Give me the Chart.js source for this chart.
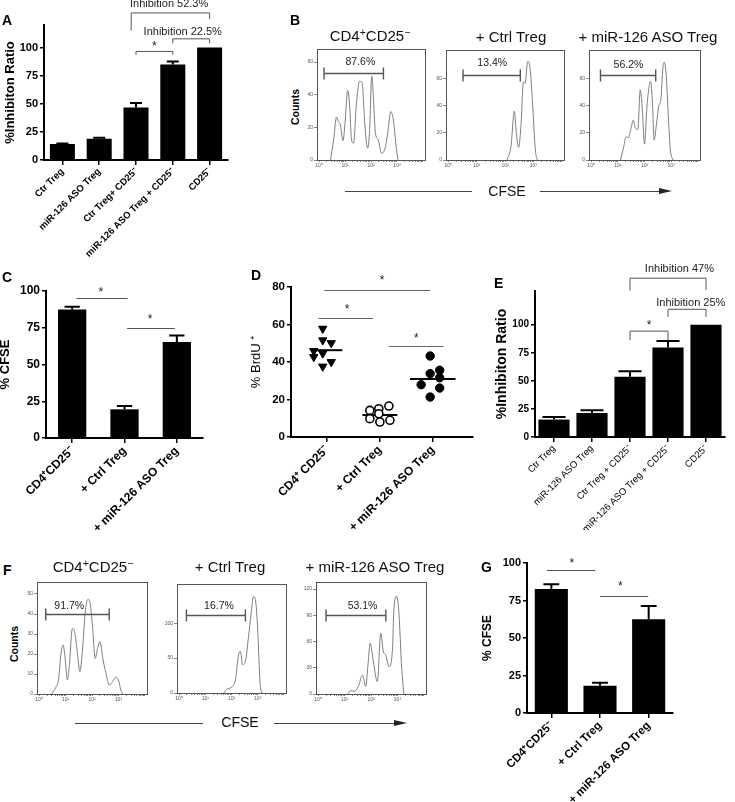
<!DOCTYPE html>
<html lang="en">
<head>
<meta charset="UTF-8">
<title>miR-126 ASO Treg suppression assays</title>
<script src="https://cdn.jsdelivr.net/npm/chart.js"></script>
<style>
  body { margin: 0; background: #fff; font-family: 'Liberation Sans', Arial, sans-serif; }
  #fig { position: relative; width: 735px; height: 802px; overflow: hidden; }
  canvas { position: absolute; }
  .t { position: absolute; white-space: nowrap; line-height: 1; color: #111; transform: translate(-50%, -50%); }
  .lt { position: absolute; font-weight: bold; font-size: 14px; line-height: 1; color: #000; }
  .ttl { font-size: 15px; }
  .cnt { font-size: 10.5px; font-weight: bold; color: #000; transform: translate(-50%, -50%) rotate(-90deg); }
  .cf { font-size: 14px; }
  sup { font-size: 0.7em; vertical-align: 0.45em; line-height: 0; }
  .ln { position: absolute; height: 1px; background: #444; }
  .arr { position: absolute; width: 0; height: 0; border-left: 13px solid #222; border-top: 3px solid transparent; border-bottom: 3px solid transparent; }
</style>
</head>
<body>
<div id="fig">
  <canvas id="cA" width="240" height="260" style="left:0;top:0"></canvas>
  <canvas id="cB1" width="130" height="129" style="left:301px;top:45px"></canvas>
  <canvas id="cB2" width="140" height="128" style="left:430px;top:46px"></canvas>
  <canvas id="cB3" width="133" height="128" style="left:573px;top:46px"></canvas>
  <canvas id="cC" width="245" height="270" style="left:0;top:260px"></canvas>
  <canvas id="cD" width="245" height="270" style="left:245px;top:260px"></canvas>
  <canvas id="cE" width="245" height="270" style="left:490px;top:260px"></canvas>
  <canvas id="cF1" width="132" height="130" style="left:21px;top:578px"></canvas>
  <canvas id="cF2" width="131" height="127" style="left:161px;top:580px"></canvas>
  <canvas id="cF3" width="132" height="130" style="left:300px;top:578px"></canvas>
  <canvas id="cG" width="257" height="272" style="left:478px;top:530px"></canvas>

  <div class="lt" style="left:2px;top:13px">A</div>
  <div class="lt" style="left:290px;top:13px">B</div>
  <div class="lt" style="left:2px;top:270px">C</div>
  <div class="lt" style="left:251px;top:268px">D</div>
  <div class="lt" style="left:494px;top:276px">E</div>
  <div class="lt" style="left:3px;top:563px">F</div>
  <div class="lt" style="left:481px;top:560px">G</div>

  <div class="t ttl" style="left:370px;top:35px">CD4<sup>+</sup>CD25<sup>−</sup></div>
  <div class="t ttl" style="left:511px;top:36px">+ Ctrl Treg</div>
  <div class="t ttl" style="left:648px;top:36px">+ miR-126 ASO Treg</div>
  <div class="t cnt" style="left:295px;top:107px">Counts</div>
  <div class="t cf" style="left:507px;top:191px">CFSE</div>
  <div class="ln" style="left:345px;top:191px;width:127px"></div>
  <div class="ln" style="left:540px;top:191px;width:122px"></div>
  <div class="arr" style="left:659px;top:188px"></div>

  <div class="t ttl" style="left:93px;top:566px">CD4<sup>+</sup>CD25<sup>−</sup></div>
  <div class="t ttl" style="left:230px;top:566px">+ Ctrl Treg</div>
  <div class="t ttl" style="left:375px;top:566px">+ miR-126 ASO Treg</div>
  <div class="t cnt" style="left:14px;top:644px">Counts</div>
  <div class="t cf" style="left:240px;top:722px">CFSE</div>
  <div class="ln" style="left:75px;top:723px;width:128px"></div>
  <div class="ln" style="left:274px;top:723px;width:121px"></div>
  <div class="arr" style="left:394px;top:720px"></div>
</div>

<script>
// ---- data ----
// A and E: % inhibition ratio (mean, SEM)
const inhLabelsA = ['Ctr Treg', 'miR-126 ASO Treg', 'Ctr Treg+ CD25⁻', 'miR-126 ASO Treg + CD25⁻', 'CD25⁻'];
const inhA = [14.2, 18.9, 46.6, 85.0, 100];
const inhErrA = [0.5, 0.9, 4.1, 2.6, 0];
const inhLabelsE = ['Ctr Treg', 'miR-126 ASO Treg', 'Ctr Treg + CD25⁻', 'miR-126 ASO Treg + CD25⁻', 'CD25⁻'];
const inhE = [15.5, 21.4, 53.6, 79.8, 100];
const inhErrE = [2.4, 2.4, 5.0, 5.6, 0];

// C and G: % CFSE
const groupLabels = ['CD4⁺CD25⁻', '+ Ctrl Treg', '+ miR-126 ASO Treg'];
const cfseC = [87.5, 19.5, 65.3];
const cfseErrC = [1.8, 2.3, 4.5];
const cfseG = [82.6, 18.1, 62.5];
const cfseErrG = [3.3, 2.0, 8.9];

// D: % BrdU+ per mouse (value, horizontal scatter within group)
const groupLabelsD = ['CD4⁺ CD25⁻', '+ Ctrl Treg', '+ miR-126 ASO Treg'];
const brduNone = [57.8, 51.6, 50.1, 45.9, 44.6, 42.7, 40.0, 37.6];
const brduNoneX = [-0.08, -0.08, 0.08, -0.25, -0.08, -0.25, 0.08, -0.08];
const brduCtrl = [14.2, 15.1, 16.5, 9.8, 12.4, 8.0, 8.9];
const brduCtrlX = [-0.19, -0.02, 0.17, -0.19, -0.02, 0.0, 0.19];
const brduAso = [43.2, 33.8, 35.6, 31.6, 27.9, 26.1, 21.3];
const brduAsoX = [-0.05, -0.05, 0.13, 0.13, -0.22, 0.13, -0.05];
const brduMean = [46.3, 11.7, 30.9];

// B and F: CFSE histograms (log10 CFSE, counts)
const histTickLabels = ['10⁰', '10¹', '10²', '10³'];
const b1Log = [0.44, 0.56, 0.67, 0.74, 0.82, 0.92, 1.0, 1.10, 1.18, 1.25, 1.33, 1.43, 1.56, 1.66, 1.76, 1.87, 1.94, 2.03, 2.10, 2.17, 2.28, 2.40, 2.56, 2.66, 2.76, 2.86, 2.97, 3.04];
const b1Cnt = [0, 12.3, 26.3, 23.6, 21.5, 11.9, 22.6, 42.7, 32.8, 12.3, 10.3, 32.8, 48.2, 47.2, 22.6, 7.2, 16.4, 51.3, 35.9, 16.4, 12.3, 4.1, 8.2, 18.5, 29.7, 24.6, 8.2, 0];
const b2Log = [2.07, 2.21, 2.33, 2.40, 2.48, 2.56, 2.65, 2.71, 2.80, 2.88, 2.98, 3.07, 3.14];
const b2Cnt = [0, 9.8, 35.9, 19.5, 9.3, 24.4, 57.3, 56.6, 72.7, 68.3, 39, 7.3, 0];
const b3Log = [1.10, 1.22, 1.31, 1.40, 1.48, 1.58, 1.65, 1.75, 1.84, 1.92, 2.00, 2.09, 2.16, 2.23, 2.30, 2.36, 2.45, 2.54, 2.61, 2.69, 2.74, 2.81, 2.90, 2.97, 3.07];
const b3Cnt = [0, 9.8, 17, 16.6, 22, 29.3, 23.9, 22.4, 51.7, 36.6, 11.7, 39, 52.4, 58, 41.5, 14.6, 26.8, 40.2, 43.9, 68.3, 72, 63.4, 29.3, 7.3, 0];
const f1Log = [0.48, 0.63, 0.73, 0.83, 0.91, 0.98, 1.07, 1.14, 1.26, 1.34, 1.45, 1.54, 1.64, 1.74, 1.84, 1.92, 2.02, 2.12, 2.21, 2.30, 2.42, 2.55, 2.65, 2.78, 2.90, 3.0, 3.09, 3.16];
const f1Cnt = [0, 3.3, 7, 20.3, 24.5, 18.3, 7, 13.7, 32.8, 31.2, 20.3, 11.2, 22, 40.3, 47.3, 46, 33.7, 17.8, 22.8, 26.2, 17, 9, 4.5, 6.2, 8.3, 7, 2, 0];
const f2Log = [1.70, 1.83, 2.02, 2.15, 2.27, 2.34, 2.42, 2.53, 2.65, 2.75, 2.84, 2.93, 3.0, 3.09, 3.16];
const f2Cnt = [0, 5.7, 8.6, 19, 54.8, 59.5, 40.5, 45.2, 81, 114, 138, 128.6, 90.5, 14.3, 0];
const f3Log = [1.12, 1.24, 1.36, 1.52, 1.68, 1.80, 1.89, 1.97, 2.09, 2.24, 2.37, 2.47, 2.56, 2.68, 2.81, 2.87, 2.97, 3.06, 3.15, 3.24];
const f3Cnt = [0, 3.7, 3, 8.6, 21.7, 8.6, 34.9, 58, 36.7, 14.2, 69.4, 48, 44.2, 31.1, 49.9, 98.6, 111.7, 91, 34.9, 0];

// proliferation gates: [from log, to log, count level] and their %
const gatesB = [[0.19, 2.48, 53.1], [0.52, 2.54, 62.7], [0.35, 2.42, 62.7]];
const gatePctB = ['87.6%', '13.4%', '56.2%'];
const gatesF = [[0.25, 2.65, 39.8], [0.28, 2.53, 112], [0.30, 2.56, 90]];
const gatePctF = ['91.7%', '16.7%', '53.1%'];

// ---- helpers ----
const FONT = "'Liberation Sans', Arial, sans-serif";
const fixW = w => s => { s.width = w; };
const fixH = h => s => { s.height = h; };
const keepTicks = top => s => { s.ticks = s.ticks.filter(t => t.value <= top + 1e-9); };
const base = pad => ({
  animation: false, responsive: false, events: [],
  layout: { padding: { top: pad[0], right: pad[1], left: 0, bottom: 0 } },
  plugins: { legend: { display: false }, tooltip: { enabled: false } }
});

function errorBars(errs, capFrac) {
  return {
    id: 'errorBars',
    afterDatasetsDraw(chart) {
      const { ctx, scales: { y } } = chart;
      const meta = chart.getDatasetMeta(0);
      const vals = chart.data.datasets[0].data;
      ctx.save();
      ctx.strokeStyle = '#000';
      ctx.lineWidth = 2;
      errs.forEach((e, i) => {
        if (!e) return;
        const bar = meta.data[i];
        const top = y.getPixelForValue(vals[i] + e);
        const half = bar.width * capFrac;
        ctx.beginPath();
        ctx.moveTo(bar.x, bar.y);
        ctx.lineTo(bar.x, top);
        ctx.moveTo(bar.x - half, top);
        ctx.lineTo(bar.x + half, top);
        ctx.stroke();
      });
      ctx.restore();
    }
  };
}

// significance lines, brackets and their labels, placed in data units
function marks(items) {
  return {
    id: 'marks',
    afterDraw(chart) {
      const { ctx, scales: { x, y } } = chart;
      const px = v => x.getPixelForValue(v), py = v => y.getPixelForValue(v);
      ctx.save();
      ctx.lineWidth = 1;
      ctx.textAlign = 'center';
      ctx.textBaseline = 'middle';
      for (const m of items) {
        ctx.strokeStyle = m.color || '#555';
        if (m.bracket) {
          const [x0, x1, yv, e0, e1] = m.bracket;
          ctx.beginPath();
          ctx.moveTo(px(x0), py(e0));
          ctx.lineTo(px(x0), py(yv));
          ctx.lineTo(px(x1), py(yv));
          ctx.lineTo(px(x1), py(e1));
          ctx.stroke();
        }
        if (m.line) {
          const [x0, x1, yv] = m.line;
          ctx.beginPath();
          ctx.moveTo(px(x0), Math.round(py(yv)) + 0.5);
          ctx.lineTo(px(x1), Math.round(py(yv)) + 0.5);
          ctx.stroke();
        }
        if (m.text) {
          ctx.fillStyle = '#222';
          ctx.font = m.font;
          ctx.fillText(m.text, px(m.at[0]), py(m.at[1]));
        }
      }
      ctx.restore();
    }
  };
}

function barChart(id, labels, values, errs, o) {
  return new Chart(document.getElementById(id), {
    type: 'bar',
    data: {
      labels,
      datasets: [{ data: values, backgroundColor: '#000', borderWidth: 0, barPercentage: o.barPct, categoryPercentage: 1 }]
    },
    options: Object.assign(base(o.pad), {
      scales: {
        x: {
          grid: { drawOnChartArea: false, offset: false, tickLength: 5, color: '#000', lineWidth: 1.5 },
          border: { color: '#000', width: 2 },
          ticks: { font: { family: FONT, size: o.xFont, weight: o.xWeight }, color: '#000', minRotation: 45, maxRotation: 45, autoSkip: false, padding: 1 },
          afterFit: fixH(o.xH)
        },
        y: {
          min: 0, max: o.yMax,
          ticks: { stepSize: o.step, font: { family: FONT, size: o.yFont, weight: 'bold' }, color: '#000', padding: 2 },
          grid: { drawOnChartArea: false, tickLength: 4, color: '#000', lineWidth: 1.5 },
          border: { color: '#000', width: 2 },
          title: { display: true, text: o.title, color: '#000', font: { family: FONT, size: o.titleFont, weight: 'bold' }, padding: { top: o.titlePad, bottom: 0 } },
          afterFit: fixW(o.yW),
          afterBuildTicks: keepTicks(o.yTop)
        }
      }
    }),
    plugins: [errorBars(errs, o.cap), marks(o.marks)]
  });
}

// log-axis ticks 1..9 x 10^0..10^3, then 10^4
const logTicks = [];
for (let e = 0; e < 4; e++) for (let k = 1; k < 10; k++) logTicks.push(k * Math.pow(10, e));
logTicks.push(1e4);

const frame = {
  id: 'frame',
  beforeDatasetsDraw(chart) {
    const { ctx, chartArea: a } = chart;
    ctx.save();
    ctx.strokeStyle = '#555';
    ctx.lineWidth = 1;
    ctx.strokeRect(Math.round(a.left) + 0.5, Math.round(a.top) + 0.5, Math.round(a.width), Math.round(a.height));
    ctx.restore();
  }
};

function gate(g, pct, at) {
  return {
    id: 'gate',
    afterDatasetsDraw(chart) {
      const { ctx, scales: { x, y } } = chart;
      const x0 = x.getPixelForValue(Math.pow(10, g[0]));
      const x1 = x.getPixelForValue(Math.pow(10, g[1]));
      const yy = Math.round(y.getPixelForValue(g[2])) + 0.5;
      ctx.save();
      ctx.strokeStyle = '#555';
      ctx.lineWidth = 1.4;
      ctx.beginPath();
      ctx.moveTo(x0, yy); ctx.lineTo(x1, yy);
      ctx.moveTo(x0, yy - 6); ctx.lineTo(x0, yy + 6);
      ctx.moveTo(x1, yy - 6); ctx.lineTo(x1, yy + 6);
      ctx.stroke();
      ctx.fillStyle = '#222';
      ctx.font = '10.5px ' + FONT;
      ctx.textAlign = 'center';
      ctx.textBaseline = 'middle';
      ctx.fillText(pct, x.getPixelForValue(Math.pow(10, at[0])), y.getPixelForValue(at[1]));
      ctx.restore();
    }
  };
}

function histChart(id, logs, counts, g, pct, o) {
  const pts = logs.map((d, i) => ({ x: Math.pow(10, d), y: counts[i] }));
  const small = { family: FONT, size: 5 };
  return new Chart(document.getElementById(id), {
    type: 'scatter',
    data: { datasets: [{ data: pts, showLine: true, borderColor: '#7e7e7e', borderWidth: 1, pointRadius: 0, cubicInterpolationMode: 'monotone' }] },
    options: Object.assign(base([4, 6]), {
      scales: {
        x: {
          type: 'logarithmic', min: Math.pow(10, -0.08), max: Math.pow(10, 4.08),
          afterBuildTicks: s => { s.ticks = logTicks.map(v => ({ value: v })); },
          ticks: {
            font: small, color: '#555', maxRotation: 0, autoSkip: false, padding: 1,
            callback: v => { const e = Math.round(Math.log10(v)); return Math.abs(Math.log10(v) - e) < 1e-6 && e < 4 ? histTickLabels[e] : ''; }
          },
          grid: { drawOnChartArea: false, tickLength: 2, color: '#666', lineWidth: 0.8 },
          border: { color: '#555', width: 1 },
          afterFit: fixH(14)
        },
        y: {
          min: 0, max: o.max,
          ticks: { stepSize: o.step, font: small, color: '#555', padding: 1 },
          grid: { drawOnChartArea: false, tickLength: 3, color: '#666', lineWidth: 0.8 },
          border: { color: '#555', width: 1 },
          afterFit: fixW(16),
          afterBuildTicks: keepTicks(o.top)
        }
      }
    }),
    plugins: [frame, gate(g, pct, o.labelAt)]
  });
}

// ---- panel A ----
barChart('cA', inhLabelsA, inhA, inhErrA, {
  pad: [25, 12], yW: 44, xH: 100, yMax: 120, yTop: 100, step: 25, barPct: 0.68, cap: 0.24,
  xFont: 9.5, xWeight: 'bold', yFont: 11, title: '%Inhibiton Ratio', titleFont: 13, titlePad: 3,
  marks: [
    { bracket: [2, 3, 96.5, 93.5, 93.5] }, { text: '*', at: [2.5, 100.3], font: '12px ' + FONT },
    { bracket: [3, 4, 107.7, 103.8, 103.8] }, { text: 'Inhibition 22.5%', at: [3.27, 113.6], font: '11px ' + FONT },
    { bracket: [1.87, 4, 130.7, 115, 125.4] }, { text: 'Inhibition 52.3%', at: [2.9, 138.6], font: '11px ' + FONT }
  ]
});

// ---- panel B ----
histChart('cB1', b1Log, b1Cnt, gatesB[0], gatePctB[0], { max: 68, step: 20, top: 60, labelAt: [1.59, 59.9] });
histChart('cB2', b2Log, b2Cnt, gatesB[1], gatePctB[1], { max: 81, step: 20, top: 80, labelAt: [1.55, 71.2] });
histChart('cB3', b3Log, b3Cnt, gatesB[2], gatePctB[2], { max: 81, step: 20, top: 80, labelAt: [1.40, 70] });

// ---- panel C ----
barChart('cC', groupLabels, cfseC, cfseErrC, {
  pad: [31, 42], yW: 46, xH: 92, yMax: 100, yTop: 100, step: 25, barPct: 0.54, cap: 0.27,
  xFont: 12, xWeight: 'bold', yFont: 12, title: '% CFSE', titleFont: 13, titlePad: -2,
  marks: [
    { line: [0.08, 1.06, 95.2] }, { text: '*', at: [0.55, 98.8], font: '12px ' + FONT },
    { line: [1.05, 1.96, 74.8] }, { text: '*', at: [1.49, 80.5], font: '12px ' + FONT }
  ]
});

// ---- panel D ----
const dPoints = (vals, offs, g) => vals.map((v, i) => ({ x: g + offs[i], y: v }));
const meanHalf = [0.29, 0.33, 0.43];
new Chart(document.getElementById('cD'), {
  type: 'scatter',
  data: {
    datasets: [
      { data: dPoints(brduNone, brduNoneX, 1), pointStyle: 'triangle', pointRotation: 180, pointRadius: 4.8, pointBackgroundColor: '#000', pointBorderColor: '#000', pointBorderWidth: 1 },
      { data: dPoints(brduCtrl, brduCtrlX, 2), pointStyle: 'circle', pointRadius: 4, pointBackgroundColor: '#fff', pointBorderColor: '#000', pointBorderWidth: 1.6 },
      { data: dPoints(brduAso, brduAsoX, 3), pointStyle: 'circle', pointRadius: 4.2, pointBackgroundColor: '#000', pointBorderColor: '#000', pointBorderWidth: 1 }
    ].concat(brduMean.map((m, i) => ({
      data: [{ x: i + 1 - meanHalf[i], y: m }, { x: i + 1 + meanHalf[i], y: m }],
      showLine: true, borderColor: '#000', borderWidth: 2, pointRadius: 0
    })))
  },
  options: Object.assign(base([27, 17]), {
    scales: {
      x: {
        type: 'linear', min: 0.32, max: 3.76,
        afterBuildTicks: s => { s.ticks = groupLabelsD.map((_, i) => ({ value: i + 1 })); },
        ticks: { callback: v => groupLabelsD[v - 1], font: { family: FONT, size: 12, weight: 'bold' }, color: '#000', minRotation: 45, maxRotation: 45, autoSkip: false, padding: 1 },
        grid: { drawOnChartArea: false, tickLength: 5, color: '#000', lineWidth: 1.5 },
        border: { color: '#000', width: 2 },
        afterFit: fixH(93)
      },
      y: {
        min: 0, max: 80,
        ticks: { stepSize: 20, font: { family: FONT, size: 11.5, weight: 'bold' }, color: '#000', padding: 2 },
        grid: { drawOnChartArea: false, tickLength: 4, color: '#000', lineWidth: 1.5 },
        border: { color: '#000', width: 2 },
        title: { display: true, text: '% BrdU ⁺', color: '#000', font: { family: FONT, size: 13 }, padding: { top: 4, bottom: 0 } },
        afterFit: fixW(46)
      }
    }
  }),
  plugins: [marks([
    { line: [0.84, 1.87, 63.5], color: '#666' }, { text: '*', at: [1.38, 67.9], font: '12px ' + FONT },
    { line: [2.17, 3.2, 48.4], color: '#666' }, { text: '*', at: [2.69, 52.4], font: '12px ' + FONT },
    { line: [0.95, 2.95, 78.2], color: '#666' }, { text: '*', at: [2.04, 83.2], font: '12px ' + FONT }
  ])]
});

// ---- panel E ----
barChart('cE', inhLabelsE, inhE, inhErrE, {
  pad: [31, 10], yW: 45, xH: 93, yMax: 130, yTop: 125, step: 25, barPct: 0.82, cap: 0.37,
  xFont: 9.5, xWeight: 'normal', yFont: 10, title: '%Inhibiton Ratio', titleFont: 14, titlePad: 4,
  marks: [
    { bracket: [2, 3, 94.3, 86.3, 86.3] }, { text: '*', at: [2.5, 98.8], font: '12px ' + FONT },
    { bracket: [3, 4, 113.7, 107, 107] }, { text: 'Inhibition 25%', at: [3.6, 119.6], font: '11px ' + FONT },
    { bracket: [2, 4, 141.4, 130.4, 131] }, { text: 'Inhibition 47%', at: [3.3, 149.4], font: '11px ' + FONT }
  ]
});

// ---- panel F ----
histChart('cF1', f1Log, f1Cnt, gatesF[0], gatePctF[0], { max: 56, step: 10, top: 50, labelAt: [1.14, 44] });
histChart('cF2', f2Log, f2Cnt, gatesF[1], gatePctF[1], { max: 156, step: 50, top: 150, labelAt: [1.52, 124] });
histChart('cF3', f3Log, f3Cnt, gatesF[2], gatePctF[2], { max: 128, step: 30, top: 120, labelAt: [1.68, 100.5] });

// ---- panel G ----
barChart('cG', groupLabels, cfseG, cfseErrG, {
  pad: [33, 62], yW: 49, xH: 89, yMax: 100, yTop: 100, step: 25, barPct: 0.68, cap: 0.24,
  xFont: 11.5, xWeight: 'bold', yFont: 11, title: '% CFSE', titleFont: 12, titlePad: 2,
  marks: [
    { line: [-0.09, 0.9, 95.5] }, { text: '*', at: [0.42, 99.3], font: '12px ' + FONT },
    { line: [1.0, 1.99, 77.7] }, { text: '*', at: [1.42, 84], font: '12px ' + FONT }
  ]
});
</script>
</body>
</html>
